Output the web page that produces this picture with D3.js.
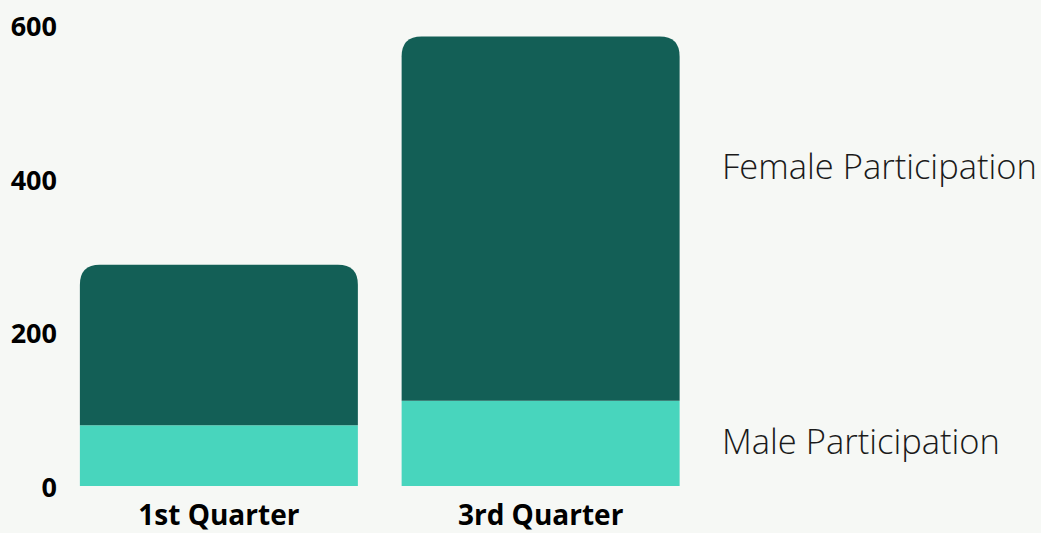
<!DOCTYPE html>
<html>
<head>
<meta charset="utf-8">
<script src="https://cdn.jsdelivr.net/npm/d3@7"></script>
<style>
  html, body { margin: 0; padding: 0; background: #f6f8f5; }
  svg { display: block; }
  text { font-family: "Open Sans", sans-serif; }
</style>
</head>
<body>
<svg id="chart" width="1041" height="533"></svg>
<script>
const categories = ["1st Quarter", "3rd Quarter"];
const maleValues = [79, 111];
const femaleValues = [209, 474];
const yTicks = [0, 200, 400, 600];
const seriesNames = ["Male Participation", "Female Participation"];
const colors = { male: "#48d5bd", female: "#135f56" };

const svg = d3.select("#chart");

const y = d3.scaleLinear().domain([0, 600]).range([486, 25]);
const x = d3.scaleBand().domain(categories).range([58, 701.5])
  .paddingInner(0.136).paddingOuter(0.068);

// y axis labels
const yAxis = d3.axisLeft(y).tickValues(yTicks).tickSize(0).tickPadding(0);
const yg = svg.append("g").attr("transform", "translate(57,2)").call(yAxis);
yg.select(".domain").remove();
yg.selectAll("text")
  .attr("font-family", "'Open Sans', sans-serif")
  .attr("font-size", 27).attr("font-weight", 700).attr("fill", "#000");

// x axis labels
const xAxis = d3.axisBottom(x).tickSize(0).tickPadding(0);
const xg = svg.append("g").attr("transform", "translate(0,505)").call(xAxis);
xg.select(".domain").remove();
xg.selectAll("text")
  .attr("font-family", "'Open Sans', sans-serif")
  .attr("font-size", 28).attr("font-weight", 700).attr("fill", "#000");

const r = 20;
function topRoundedRect(x0, y0, w, h, rad) {
  const rr = Math.min(rad, h, w / 2);
  return `M${x0},${y0 + h}V${y0 + rr}Q${x0},${y0} ${x0 + rr},${y0}` +
         `H${x0 + w - rr}Q${x0 + w},${y0} ${x0 + w},${y0 + rr}V${y0 + h}Z`;
}

const data = categories.map((c, i) => ({ c, m: maleValues[i], f: femaleValues[i] }));

// male segments
svg.append("g").selectAll("rect").data(data).join("rect")
  .attr("x", d => x(d.c)).attr("width", x.bandwidth())
  .attr("y", d => y(d.m)).attr("height", d => y(0) - y(d.m))
  .attr("fill", colors.male);

// female segments (rounded top)
svg.append("g").selectAll("path").data(data).join("path")
  .attr("d", d => topRoundedRect(x(d.c), y(d.m + d.f), x.bandwidth(), y(d.m) - y(d.m + d.f), r))
  .attr("fill", colors.female);

// series labels at right
const last = data[data.length - 1];
svg.append("text").attr("x", 722).attr("y", (y(0) + y(last.m)) / 2 - 3)
  .attr("dominant-baseline", "central")
  .attr("font-size", 34.5).attr("font-weight", 300).attr("fill", "#1a1a1a")
  .text(seriesNames[0]);
svg.append("text").attr("x", 722).attr("y", 165)
  .attr("dominant-baseline", "central")
  .attr("font-size", 34.5).attr("font-weight", 300).attr("fill", "#1a1a1a")
  .text(seriesNames[1]);
</script>
</body>
</html>
